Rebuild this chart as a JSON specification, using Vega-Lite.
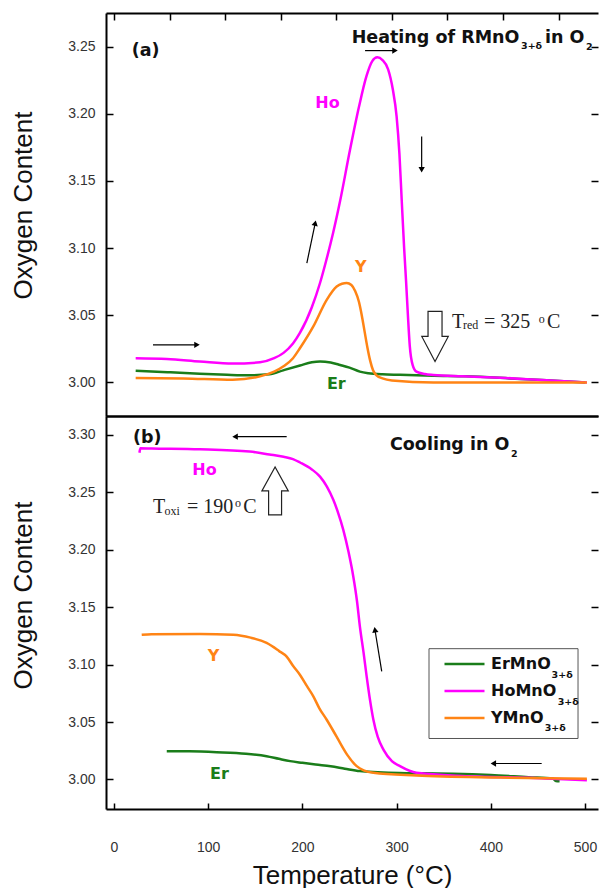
{
  "$schema": "https://vega.github.io/schema/vega-lite/v6.json",
  "padding": {"left": 10, "top": 12, "right": 0, "bottom": 0},
  "spacing": -2,
  "config": {
    "view": {"stroke": null},
    "font": "Liberation Sans",
    "axis": {"grid": false, "domainColor": "#000", "domainWidth": 2, "tickColor": "#000", "tickWidth": 1.5, "labelFont": "Liberation Sans", "labelFontSize": 14, "labelColor": "#333", "titleFont": "Liberation Sans", "titleFontSize": 26, "titleFontWeight": "normal", "titleColor": "#111"}
  },
  "resolve": {"legend": {"color": "independent"}},
  "datasets": {
    "heating": [
      {"series": "Er", "x": 23, "y": 3.0087}, {"series": "Er", "x": 60, "y": 3.0075}, {"series": "Er", "x": 91, "y": 3.0065}, {"series": "Er", "x": 120, "y": 3.0057}, {"series": "Er", "x": 144, "y": 3.0053}, {"series": "Er", "x": 165, "y": 3.006}, {"series": "Er", "x": 179.6, "y": 3.009}, {"series": "Er", "x": 197.5, "y": 3.0126}, {"series": "Er", "x": 210, "y": 3.015}, {"series": "Er", "x": 218.7, "y": 3.0156}, {"series": "Er", "x": 230, "y": 3.0148}, {"series": "Er", "x": 240, "y": 3.013}, {"series": "Er", "x": 250, "y": 3.011}, {"series": "Er", "x": 261, "y": 3.008}, {"series": "Er", "x": 270, "y": 3.0068}, {"series": "Er", "x": 285, "y": 3.006}, {"series": "Er", "x": 303.6, "y": 3.0057}, {"series": "Er", "x": 340, "y": 3.005}, {"series": "Er", "x": 374, "y": 3.0045}, {"series": "Er", "x": 420, "y": 3.003}, {"series": "Er", "x": 473, "y": 3.001}, {"series": "Er", "x": 500, "y": 3.0},
      {"series": "Ho", "x": 23, "y": 3.018}, {"series": "Ho", "x": 56, "y": 3.0175}, {"series": "Ho", "x": 91, "y": 3.0156}, {"series": "Ho", "x": 126, "y": 3.014}, {"series": "Ho", "x": 155, "y": 3.015}, {"series": "Ho", "x": 170, "y": 3.018}, {"series": "Ho", "x": 180, "y": 3.022}, {"series": "Ho", "x": 190, "y": 3.029}, {"series": "Ho", "x": 197.5, "y": 3.037}, {"series": "Ho", "x": 210, "y": 3.056}, {"series": "Ho", "x": 218.7, "y": 3.074}, {"series": "Ho", "x": 225, "y": 3.09}, {"series": "Ho", "x": 232.5, "y": 3.111}, {"series": "Ho", "x": 240, "y": 3.135}, {"series": "Ho", "x": 250.5, "y": 3.173}, {"series": "Ho", "x": 260, "y": 3.205}, {"series": "Ho", "x": 268, "y": 3.228}, {"series": "Ho", "x": 274, "y": 3.239}, {"series": "Ho", "x": 279.5, "y": 3.242}, {"series": "Ho", "x": 285, "y": 3.24}, {"series": "Ho", "x": 291, "y": 3.233}, {"series": "Ho", "x": 296, "y": 3.218}, {"series": "Ho", "x": 300, "y": 3.198}, {"series": "Ho", "x": 303, "y": 3.17}, {"series": "Ho", "x": 305.4, "y": 3.136}, {"series": "Ho", "x": 308, "y": 3.1}, {"series": "Ho", "x": 310, "y": 3.076}, {"series": "Ho", "x": 312, "y": 3.05}, {"series": "Ho", "x": 314, "y": 3.027}, {"series": "Ho", "x": 317, "y": 3.013}, {"series": "Ho", "x": 321, "y": 3.008}, {"series": "Ho", "x": 330, "y": 3.0062}, {"series": "Ho", "x": 339, "y": 3.0055}, {"series": "Ho", "x": 370, "y": 3.0045}, {"series": "Ho", "x": 410, "y": 3.0035}, {"series": "Ho", "x": 450, "y": 3.002}, {"series": "Ho", "x": 502, "y": 3.0},
      {"series": "Y", "x": 23, "y": 3.0033}, {"series": "Y", "x": 73.6, "y": 3.003}, {"series": "Y", "x": 126, "y": 3.002}, {"series": "Y", "x": 155, "y": 3.0045}, {"series": "Y", "x": 170, "y": 3.008}, {"series": "Y", "x": 180, "y": 3.012}, {"series": "Y", "x": 190, "y": 3.018}, {"series": "Y", "x": 197.5, "y": 3.0256}, {"series": "Y", "x": 211.6, "y": 3.0417}, {"series": "Y", "x": 225.8, "y": 3.0615}, {"series": "Y", "x": 236.4, "y": 3.0714}, {"series": "Y", "x": 242, "y": 3.0735}, {"series": "Y", "x": 247, "y": 3.074}, {"series": "Y", "x": 252, "y": 3.0725}, {"series": "Y", "x": 256, "y": 3.068}, {"series": "Y", "x": 260, "y": 3.06}, {"series": "Y", "x": 263, "y": 3.05}, {"series": "Y", "x": 266, "y": 3.038}, {"series": "Y", "x": 269, "y": 3.026}, {"series": "Y", "x": 272, "y": 3.016}, {"series": "Y", "x": 275, "y": 3.009}, {"series": "Y", "x": 279, "y": 3.005}, {"series": "Y", "x": 285, "y": 3.003}, {"series": "Y", "x": 295, "y": 3.0015}, {"series": "Y", "x": 339, "y": 3.0}, {"series": "Y", "x": 420, "y": 3.0}, {"series": "Y", "x": 502, "y": 3.0}
    ],
    "cooling": [
      {"series": "Er", "x": 56, "y": 3.0246}, {"series": "Er", "x": 80, "y": 3.0245}, {"series": "Er", "x": 109, "y": 3.0238}, {"series": "Er", "x": 140, "y": 3.0225}, {"series": "Er", "x": 162, "y": 3.0203}, {"series": "Er", "x": 175, "y": 3.018}, {"series": "Er", "x": 187, "y": 3.016}, {"series": "Er", "x": 200, "y": 3.0145}, {"series": "Er", "x": 214, "y": 3.013}, {"series": "Er", "x": 230, "y": 3.0115}, {"series": "Er", "x": 245, "y": 3.0094}, {"series": "Er", "x": 261, "y": 3.0073}, {"series": "Er", "x": 280, "y": 3.0064}, {"series": "Er", "x": 303, "y": 3.0057}, {"series": "Er", "x": 330, "y": 3.0054}, {"series": "Er", "x": 360, "y": 3.0051}, {"series": "Er", "x": 400, "y": 3.004}, {"series": "Er", "x": 440, "y": 3.002}, {"series": "Er", "x": 466, "y": 3.0008}, {"series": "Er", "x": 469, "y": 2.9987}, {"series": "Er", "x": 473, "y": 2.9985},
      {"series": "Ho", "x": 27, "y": 3.2845}, {"series": "Ho", "x": 28, "y": 3.2884}, {"series": "Ho", "x": 40, "y": 3.2882}, {"series": "Ho", "x": 91, "y": 3.2875}, {"series": "Ho", "x": 144, "y": 3.2855}, {"series": "Ho", "x": 165, "y": 3.283}, {"series": "Ho", "x": 180, "y": 3.281}, {"series": "Ho", "x": 190, "y": 3.279}, {"series": "Ho", "x": 197.5, "y": 3.276}, {"series": "Ho", "x": 210, "y": 3.27}, {"series": "Ho", "x": 218.7, "y": 3.2637}, {"series": "Ho", "x": 226, "y": 3.255}, {"series": "Ho", "x": 232.8, "y": 3.2435}, {"series": "Ho", "x": 238, "y": 3.232}, {"series": "Ho", "x": 243.4, "y": 3.2174}, {"series": "Ho", "x": 249, "y": 3.198}, {"series": "Ho", "x": 254, "y": 3.1768}, {"series": "Ho", "x": 258, "y": 3.155}, {"series": "Ho", "x": 261, "y": 3.1333}, {"series": "Ho", "x": 265, "y": 3.11}, {"series": "Ho", "x": 268.2, "y": 3.0898}, {"series": "Ho", "x": 272, "y": 3.068}, {"series": "Ho", "x": 275.3, "y": 3.0522}, {"series": "Ho", "x": 280, "y": 3.037}, {"series": "Ho", "x": 286, "y": 3.026}, {"series": "Ho", "x": 295, "y": 3.016}, {"series": "Ho", "x": 303.6, "y": 3.0116}, {"series": "Ho", "x": 321, "y": 3.0058}, {"series": "Ho", "x": 374, "y": 3.0029}, {"series": "Ho", "x": 440, "y": 3.0015}, {"series": "Ho", "x": 502, "y": 2.9994},
      {"series": "Y", "x": 29.4, "y": 3.126}, {"series": "Y", "x": 40, "y": 3.1265}, {"series": "Y", "x": 91, "y": 3.1267}, {"series": "Y", "x": 126.6, "y": 3.126}, {"series": "Y", "x": 145, "y": 3.1235}, {"series": "Y", "x": 162, "y": 3.1189}, {"series": "Y", "x": 175, "y": 3.112}, {"series": "Y", "x": 183.3, "y": 3.107}, {"series": "Y", "x": 190, "y": 3.099}, {"series": "Y", "x": 197.5, "y": 3.091}, {"series": "Y", "x": 205, "y": 3.081}, {"series": "Y", "x": 211.6, "y": 3.0724}, {"series": "Y", "x": 218, "y": 3.062}, {"series": "Y", "x": 225.8, "y": 3.052}, {"series": "Y", "x": 233, "y": 3.042}, {"series": "Y", "x": 240, "y": 3.0319}, {"series": "Y", "x": 248, "y": 3.021}, {"series": "Y", "x": 257.6, "y": 3.0116}, {"series": "Y", "x": 265, "y": 3.008}, {"series": "Y", "x": 275.3, "y": 3.0058}, {"series": "Y", "x": 321, "y": 3.0035}, {"series": "Y", "x": 410, "y": 3.0017}, {"series": "Y", "x": 502, "y": 3.0006}
    ],
    "namesA": [{"series": "Ho", "x": 226.6, "y": 3.2081}, {"series": "Y", "x": 262, "y": 3.0861}, {"series": "Er", "x": 236, "y": 2.999}],
    "namesB": [{"series": "Ho", "x": 96, "y": 3.2696}, {"series": "Y", "x": 105.6, "y": 3.1078}, {"series": "Er", "x": 112, "y": 3.0052}],
    "boldA": [{"text": "(a)", "x": 18.8, "y": 3.2431}, {"text": "Heating of RMnO", "x": 252.3, "y": 3.253}, {"text": "in O", "x": 457.5, "y": 3.253}],
    "boldB": [{"text": "(b)", "x": 20.2, "y": 3.2928}, {"text": "Cooling in O", "x": 293, "y": 3.2865}],
    "subA": [{"text": "3+δ", "x": 432.1, "y": 3.2481}, {"text": "2", "x": 501.1, "y": 3.2475}],
    "subB": [{"text": "2", "x": 421.4, "y": 3.2811}, {"text": "3+δ", "x": 464.5, "y": 3.0884}, {"text": "3+δ", "x": 471, "y": 3.0652}, {"text": "3+δ", "x": 457.2, "y": 3.042}],
    "legendBox": [{"x": 334.4, "x2": 492.6, "y": 3.1139, "y2": 3.0357}],
    "serifA": [{"text": "T", "x": 358.8, "y": 3.0405}, {"text": "= 325", "x": 392.7, "y": 3.0405}, {"text": "C", "x": 459.7, "y": 3.0405}],
    "serifSmallA": [{"text": "red", "x": 370.5, "y": 3.04}, {"text": "o", "x": 451, "y": 3.0442}],
    "serifB": [{"text": "T", "x": 41.4, "y": 3.2319}, {"text": "= 190", "x": 77.5, "y": 3.2319}, {"text": "C", "x": 137.2, "y": 3.2319}],
    "serifSmallB": [{"text": "oxi", "x": 53.6, "y": 3.2304}, {"text": "o", "x": 128.5, "y": 3.2374}],
    "blockA": [{"x": 340.8, "y": 3.0342}],
    "blockB": [{"x": 171, "y": 3.2513}],
    "arrowsA": [
      {"x": 41.4, "y": 3.028, "x2": 88.1, "y2": 3.028, "angle": 90},
      {"x": 204.7, "y": 3.0888, "x2": 213.6, "y2": 3.1186, "angle": 12},
      {"x": 266.5, "y": 3.247, "x2": 298.3, "y2": 3.247, "angle": 90},
      {"x": 326.6, "y": 3.183, "x2": 326.6, "y2": 3.1583, "angle": 180}
    ],
    "arrowsB": [
      {"x": 183.3, "y": 3.2985, "x2": 128.5, "y2": 3.2985, "angle": 270},
      {"x": 284.2, "y": 3.0942, "x2": 277, "y2": 3.1304, "angle": 351},
      {"x": 454, "y": 3.0139, "x2": 402.7, "y2": 3.0139, "angle": 270}
    ]
  },
  "vconcat": [
    {
      "width": 492,
      "height": 403,
      "encoding": {
        "x": {"field": "x", "type": "quantitative", "scale": {"domain": [-8.5, 513.8], "nice": false, "zero": false}, "axis": null},
        "y": {"field": "y", "type": "quantitative", "scale": {"domain": [2.975, 3.275], "nice": false, "zero": false}, "axis": null}
      },
      "layer": [
        {
          "data": {"name": "heating"},
          "mark": {"type": "line", "strokeWidth": 2.5, "interpolate": "monotone"},
          "encoding": {
            "x": {"field": "x", "type": "quantitative", "scale": {"domain": [-8.5, 513.8], "nice": false, "zero": false},
                  "axis": {"orient": "top", "values": [0, 59, 118, 177, 236, 295, 354, 413, 472], "labels": false, "tickSize": -7, "title": null}},
            "y": {"field": "y", "type": "quantitative", "scale": {"domain": [2.975, 3.275], "nice": false, "zero": false},
                  "axis": {"orient": "left", "values": [3.0, 3.05, 3.1, 3.15, 3.2, 3.25], "format": ".2f", "tickSize": -7, "labelPadding": 18, "title": "Oxygen Content", "titleX": -70, "titleY": 192}},
            "color": {"field": "series", "type": "nominal", "scale": {"domain": ["Er", "Ho", "Y"], "range": ["#1a7d1a", "#ff00ff", "#ff8415"]}, "legend": null}
          }
        },
        {
          "data": {"name": "namesA"},
          "mark": {"type": "text", "font": "DejaVu Sans", "fontWeight": "bold", "fontSize": 16, "align": "center", "baseline": "middle"},
          "encoding": {
            "x": {"field": "x", "type": "quantitative", "scale": {"domain": [-8.5, 513.8], "nice": false, "zero": false},
                  "axis": {"orient": "bottom", "ticks": false, "labels": false, "title": null}},
            "y": {"field": "y", "type": "quantitative", "scale": {"domain": [2.975, 3.275], "nice": false, "zero": false},
                  "axis": {"orient": "right", "values": [3.0, 3.05, 3.1, 3.15, 3.2, 3.25], "labels": false, "domain": false, "tickSize": -7, "title": null}},
            "text": {"field": "series"},
            "color": {"field": "series", "type": "nominal", "legend": null}
          }
        },
        {
          "data": {"name": "boldA"},
          "mark": {"type": "text", "font": "DejaVu Sans", "fontWeight": "bold", "fontSize": 17.5, "align": "left", "baseline": "alphabetic", "color": "#111"},
          "encoding": {"text": {"field": "text"}}
        },
        {
          "data": {"name": "subA"},
          "mark": {"type": "text", "font": "DejaVu Sans", "fontWeight": "bold", "fontSize": 9.5, "align": "left", "baseline": "alphabetic", "color": "#111"},
          "encoding": {"text": {"field": "text"}}
        },
        {
          "data": {"name": "serifA"},
          "mark": {"type": "text", "font": "Liberation Serif", "fontSize": 20, "align": "left", "baseline": "alphabetic", "color": "#222"},
          "encoding": {"text": {"field": "text"}}
        },
        {
          "data": {"name": "serifSmallA"},
          "mark": {"type": "text", "font": "Liberation Serif", "fontSize": 12, "align": "left", "baseline": "alphabetic", "color": "#222"},
          "encoding": {"text": {"field": "text"}}
        },
        {
          "data": {"name": "blockA"},
          "mark": {"type": "point", "shape": "M -0.28 -1 L 0.28 -1 L 0.28 0 L 0.53 0 L 0 1 L -0.53 0 L -0.28 0 Z", "filled": false, "stroke": "#222", "strokeWidth": 1.2, "size": 2500, "opacity": 1}
        },
        {
          "data": {"name": "arrowsA"},
          "mark": {"type": "rule", "color": "#000", "strokeWidth": 1.2},
          "encoding": {"x2": {"field": "x2"}, "y2": {"field": "y2"}}
        },
        {
          "data": {"name": "arrowsA"},
          "mark": {"type": "point", "shape": "triangle-up", "filled": true, "color": "#000", "size": 40, "opacity": 1},
          "encoding": {
            "x": {"field": "x2", "type": "quantitative", "scale": {"domain": [-8.5, 513.8], "nice": false, "zero": false}, "axis": null},
            "y": {"field": "y2", "type": "quantitative", "scale": {"domain": [2.975, 3.275], "nice": false, "zero": false}, "axis": null},
            "angle": {"field": "angle", "type": "quantitative", "scale": null}
          }
        }
      ]
    },
    {
      "width": 492,
      "height": 393,
      "encoding": {
        "x": {"field": "x", "type": "quantitative", "scale": {"domain": [-8.5, 513.8], "nice": false, "zero": false}, "axis": null},
        "y": {"field": "y", "type": "quantitative", "scale": {"domain": [2.9743, 3.3165], "nice": false, "zero": false}, "axis": null}
      },
      "layer": [
        {
          "data": {"name": "legendBox"},
          "mark": {"type": "rect", "filled": false, "color": "#555", "strokeWidth": 1, "opacity": 1},
          "encoding": {"x2": {"field": "x2"}, "y2": {"field": "y2"}}
        },
        {
          "data": {"name": "cooling"},
          "mark": {"type": "line", "strokeWidth": 2.5, "interpolate": "monotone"},
          "encoding": {
            "x": {"field": "x", "type": "quantitative", "scale": {"domain": [-8.5, 513.8], "nice": false, "zero": false},
                  "axis": {"orient": "top", "ticks": false, "labels": false, "title": null}},
            "y": {"field": "y", "type": "quantitative", "scale": {"domain": [2.9743, 3.3165], "nice": false, "zero": false},
                  "axis": {"orient": "left", "values": [3.0, 3.05, 3.1, 3.15, 3.2, 3.25, 3.3], "format": ".2f", "tickSize": -7, "labelPadding": 18, "title": "Oxygen Content", "titleX": -70, "titleY": 179}},
            "color": {"field": "series", "type": "nominal", "scale": {"domain": ["Er", "Ho", "Y"], "range": ["#1a7d1a", "#ff00ff", "#ff8415"]},
                      "legend": {"orient": "none", "legendX": 327, "legendY": 230, "title": null, "symbolType": "stroke", "symbolSize": 1600, "symbolStrokeWidth": 2.5, "labelExpr": "datum.label + 'MnO'", "labelFont": "DejaVu Sans", "labelFontWeight": "bold", "labelFontSize": 16, "labelColor": "#111", "labelOffset": 5, "padding": 10, "clipHeight": 16, "rowPadding": 11}}
          }
        },
        {
          "data": {"name": "namesB"},
          "mark": {"type": "text", "font": "DejaVu Sans", "fontWeight": "bold", "fontSize": 16, "align": "center", "baseline": "middle"},
          "encoding": {
            "x": {"field": "x", "type": "quantitative", "scale": {"domain": [-8.5, 513.8], "nice": false, "zero": false},
                  "axis": {"orient": "bottom", "values": [0, 100, 200, 300, 400, 500], "tickSize": -6, "labelPadding": 37, "title": "Temperature (°C)", "titleY": 74, "titleBaseline": "alphabetic"}},
            "y": {"field": "y", "type": "quantitative", "scale": {"domain": [2.9743, 3.3165], "nice": false, "zero": false},
                  "axis": {"orient": "right", "values": [3.0, 3.05, 3.1, 3.15, 3.2, 3.25, 3.3], "labels": false, "domain": false, "tickSize": -7, "title": null}},
            "text": {"field": "series"},
            "color": {"field": "series", "type": "nominal", "legend": null}
          }
        },
        {
          "data": {"name": "boldB"},
          "mark": {"type": "text", "font": "DejaVu Sans", "fontWeight": "bold", "fontSize": 17.5, "align": "left", "baseline": "alphabetic", "color": "#111"},
          "encoding": {"text": {"field": "text"}}
        },
        {
          "data": {"name": "subB"},
          "mark": {"type": "text", "font": "DejaVu Sans", "fontWeight": "bold", "fontSize": 9.5, "align": "left", "baseline": "alphabetic", "color": "#111"},
          "encoding": {"text": {"field": "text"}}
        },
        {
          "data": {"name": "serifB"},
          "mark": {"type": "text", "font": "Liberation Serif", "fontSize": 20, "align": "left", "baseline": "alphabetic", "color": "#222"},
          "encoding": {"text": {"field": "text"}}
        },
        {
          "data": {"name": "serifSmallB"},
          "mark": {"type": "text", "font": "Liberation Serif", "fontSize": 12, "align": "left", "baseline": "alphabetic", "color": "#222"},
          "encoding": {"text": {"field": "text"}}
        },
        {
          "data": {"name": "blockB"},
          "mark": {"type": "point", "shape": "M -0.27 1 L 0.27 1 L 0.27 0 L 0.55 0 L 0 -1 L -0.55 0 L -0.27 0 Z", "filled": false, "stroke": "#222", "strokeWidth": 1.2, "size": 2304, "opacity": 1}
        },
        {
          "data": {"name": "arrowsB"},
          "mark": {"type": "rule", "color": "#000", "strokeWidth": 1.2},
          "encoding": {"x2": {"field": "x2"}, "y2": {"field": "y2"}}
        },
        {
          "data": {"name": "arrowsB"},
          "mark": {"type": "point", "shape": "triangle-up", "filled": true, "color": "#000", "size": 40, "opacity": 1},
          "encoding": {
            "x": {"field": "x2", "type": "quantitative", "scale": {"domain": [-8.5, 513.8], "nice": false, "zero": false}, "axis": null},
            "y": {"field": "y2", "type": "quantitative", "scale": {"domain": [2.9743, 3.3165], "nice": false, "zero": false}, "axis": null},
            "angle": {"field": "angle", "type": "quantitative", "scale": null}
          }
        }
      ]
    }
  ]
}
